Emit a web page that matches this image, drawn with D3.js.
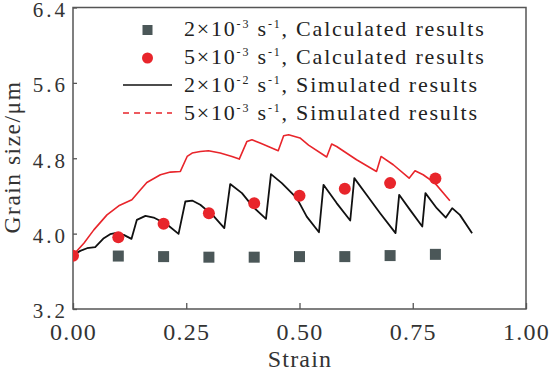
<!DOCTYPE html>
<html><head><meta charset="utf-8">
<script src="https://cdn.jsdelivr.net/npm/d3@7"></script>
<style>body{margin:0;background:#fff}svg{display:block}text{font-family:"Liberation Serif","Times New Roman",serif}</style>
</head><body>
<svg id="c" width="550" height="371"></svg>
<script>
const xTicks = [0, 0.25, 0.5, 0.75, 1.0];
const yTicks = [3.2, 4.0, 4.8, 5.6, 6.4];
const calcStrain = [0.1, 0.2, 0.3, 0.4, 0.5, 0.6, 0.7, 0.8];
const calc2e3 = [3.762, 3.756, 3.75, 3.75, 3.756, 3.756, 3.767, 3.78];
const calcStrain5 = [0, 0.1, 0.2, 0.3, 0.4, 0.5, 0.6, 0.7, 0.8];
const calc5e3 = [3.765, 3.962, 4.104, 4.217, 4.323, 4.402, 4.476, 4.536, 4.585];
const sim2e2Strain = [0,0.016,0.031,0.049,0.068,0.082,0.093,0.112,0.129,0.141,0.160,0.178,0.207,0.233,0.248,0.263,0.281,0.310,0.334,0.347,0.373,0.398,0.426,0.437,0.461,0.494,0.516,0.543,0.553,0.582,0.612,0.621,0.648,0.678,0.712,0.720,0.744,0.771,0.778,0.803,0.823,0.837,0.854,0.881];
const sim2e2 = [3.77,3.817,3.845,3.856,3.952,3.994,4.005,3.987,3.944,4.146,4.189,4.171,4.10,3.997,4.341,4.351,4.306,4.189,4.058,4.526,4.43,4.281,4.157,4.632,4.536,4.377,4.181,4.015,4.518,4.324,4.139,4.589,4.412,4.217,4.005,4.412,4.252,4.075,4.43,4.27,4.171,4.27,4.199,4.005];
const sim5e3Strain = [0,0.024,0.046,0.075,0.101,0.130,0.149,0.163,0.193,0.215,0.237,0.252,0.263,0.281,0.299,0.325,0.351,0.367,0.384,0.395,0.413,0.453,0.465,0.476,0.501,0.520,0.560,0.571,0.582,0.626,0.670,0.680,0.707,0.742,0.755,0.773,0.799,0.832];
const sim5e3 = [3.77,3.898,4.04,4.199,4.295,4.359,4.465,4.543,4.625,4.653,4.66,4.819,4.855,4.872,4.88,4.855,4.819,4.791,4.979,4.997,4.962,4.88,5.039,5.05,5.015,4.94,4.813,4.951,4.925,4.784,4.66,4.819,4.731,4.589,4.667,4.625,4.536,4.348];
const legendLabels = [
  ["2×10", "-3", " s", "-1", ", Calculated results"],
  ["5×10", "-3", " s", "-1", ", Calculated results"],
  ["2×10", "-2", " s", "-1", ", Simulated results"],
  ["5×10", "-3", " s", "-1", ", Simulated results"]
];
const xTitle = "Strain", yTitle = "Grain size/μm";

const svg = d3.select("#c");
const L = 73, R = 526, T = 7.5, B = 309;
const x = d3.scaleLinear().domain([0, 1]).range([L, R]);
const y = d3.scaleLinear().domain([3.2, 6.4]).range([B, T]);
const axisCol = "#555", txtCol = "#333";
const gray = "#4b5758", red = "#e8252b";

svg.append("clipPath").attr("id","clip").append("rect").attr("x",L).attr("y",T).attr("width",R-L).attr("height",B-T);

svg.append("rect").attr("x",L).attr("y",T).attr("width",R-L).attr("height",B-T).attr("fill","none").attr("stroke",axisCol).attr("stroke-width",1.5);

const xa = svg.append("g").attr("transform",`translate(0,${B})`).call(d3.axisBottom(x).tickValues(xTicks).tickSizeInner(-6).tickSizeOuter(0).tickPadding(14).tickFormat(d3.format(".2f")));
xa.select(".domain").remove();
xa.selectAll("line").attr("stroke",axisCol).attr("stroke-width",1.3);
xa.selectAll("text").attr("font-size",24).attr("fill",txtCol).attr("font-family","Liberation Serif").style("letter-spacing","1.2px");

const ya = svg.append("g").attr("transform",`translate(${L},0)`).call(d3.axisLeft(y).tickValues(yTicks).tickSizeInner(-4).tickSizeOuter(0).tickPadding(5).tickFormat(d3.format(".1f")));
ya.select(".domain").remove();
ya.selectAll("line").attr("stroke",axisCol).attr("stroke-width",1.3);
ya.selectAll("text").attr("font-size",21).attr("fill",txtCol).attr("font-family","Liberation Serif").style("letter-spacing","3px").attr("dy","0.42em");

svg.append("text").attr("x",300).attr("y",367).attr("text-anchor","middle").attr("font-size",24).attr("fill",txtCol).style("letter-spacing","1.2px").text(xTitle);
svg.append("text").attr("transform",`translate(20,${157}) rotate(-90)`).attr("text-anchor","middle").attr("font-size",23.5).attr("fill",txtCol).style("letter-spacing","1.5px").text(yTitle);

const plot = svg.append("g").attr("clip-path","url(#clip)");
const line = d3.line().x(d=>x(d[0])).y(d=>y(d[1]));

plot.append("path").datum(sim5e3Strain.map((s,i)=>[s,sim5e3[i]])).attr("d",line).attr("fill","none").attr("stroke",red).attr("stroke-width",1.6).attr("stroke-linejoin","round");
plot.append("path").datum(sim2e2Strain.map((s,i)=>[s,sim2e2[i]])).attr("d",line).attr("fill","none").attr("stroke","#111").attr("stroke-width",1.8).attr("stroke-linejoin","round");

const sq = 11;
plot.selectAll("rect.sq").data(calcStrain.map((s,i)=>[s,calc2e3[i]])).join("rect").attr("class","sq")
  .attr("x",d=>x(d[0])-sq/2).attr("y",d=>y(d[1])-sq/2).attr("width",sq).attr("height",sq).attr("fill",gray);
plot.selectAll("circle.ci").data(calcStrain5.map((s,i)=>[s,calc5e3[i]])).join("circle").attr("class","ci")
  .attr("cx",d=>x(d[0])).attr("cy",d=>y(d[1])).attr("r",6).attr("fill",red);

const lg = svg.append("g");
const rowY = [28, 56, 84, 112];
lg.append("rect").attr("x",147.5-5).attr("y",rowY[0]+2-5).attr("width",10).attr("height",10).attr("fill",gray);
lg.append("circle").attr("cx",147.5).attr("cy",rowY[1]+2).attr("r",5.5).attr("fill",red);
lg.append("line").attr("x1",123).attr("x2",172).attr("y1",rowY[2]+1).attr("y2",rowY[2]+1).attr("stroke","#111").attr("stroke-width",1.6);
lg.append("line").attr("x1",123).attr("x2",172).attr("y1",rowY[3]+1).attr("y2",rowY[3]+1).attr("stroke",red).attr("stroke-width",1.4).attr("stroke-dasharray","6,5");
legendLabels.forEach((parts,i)=>{
  const t = lg.append("text").attr("x",184).attr("y",rowY[i]+8).attr("font-size",22).attr("fill","#222").style("letter-spacing","1.8px");
  t.append("tspan").text(parts[0]);
  t.append("tspan").attr("dy",-8).attr("font-size",12).text(parts[1]);
  t.append("tspan").attr("dy",8).text(parts[2]);
  t.append("tspan").attr("dy",-8).attr("font-size",12).text(parts[3]);
  t.append("tspan").attr("dy",8).text(parts[4]);
});
</script>
</body></html>
